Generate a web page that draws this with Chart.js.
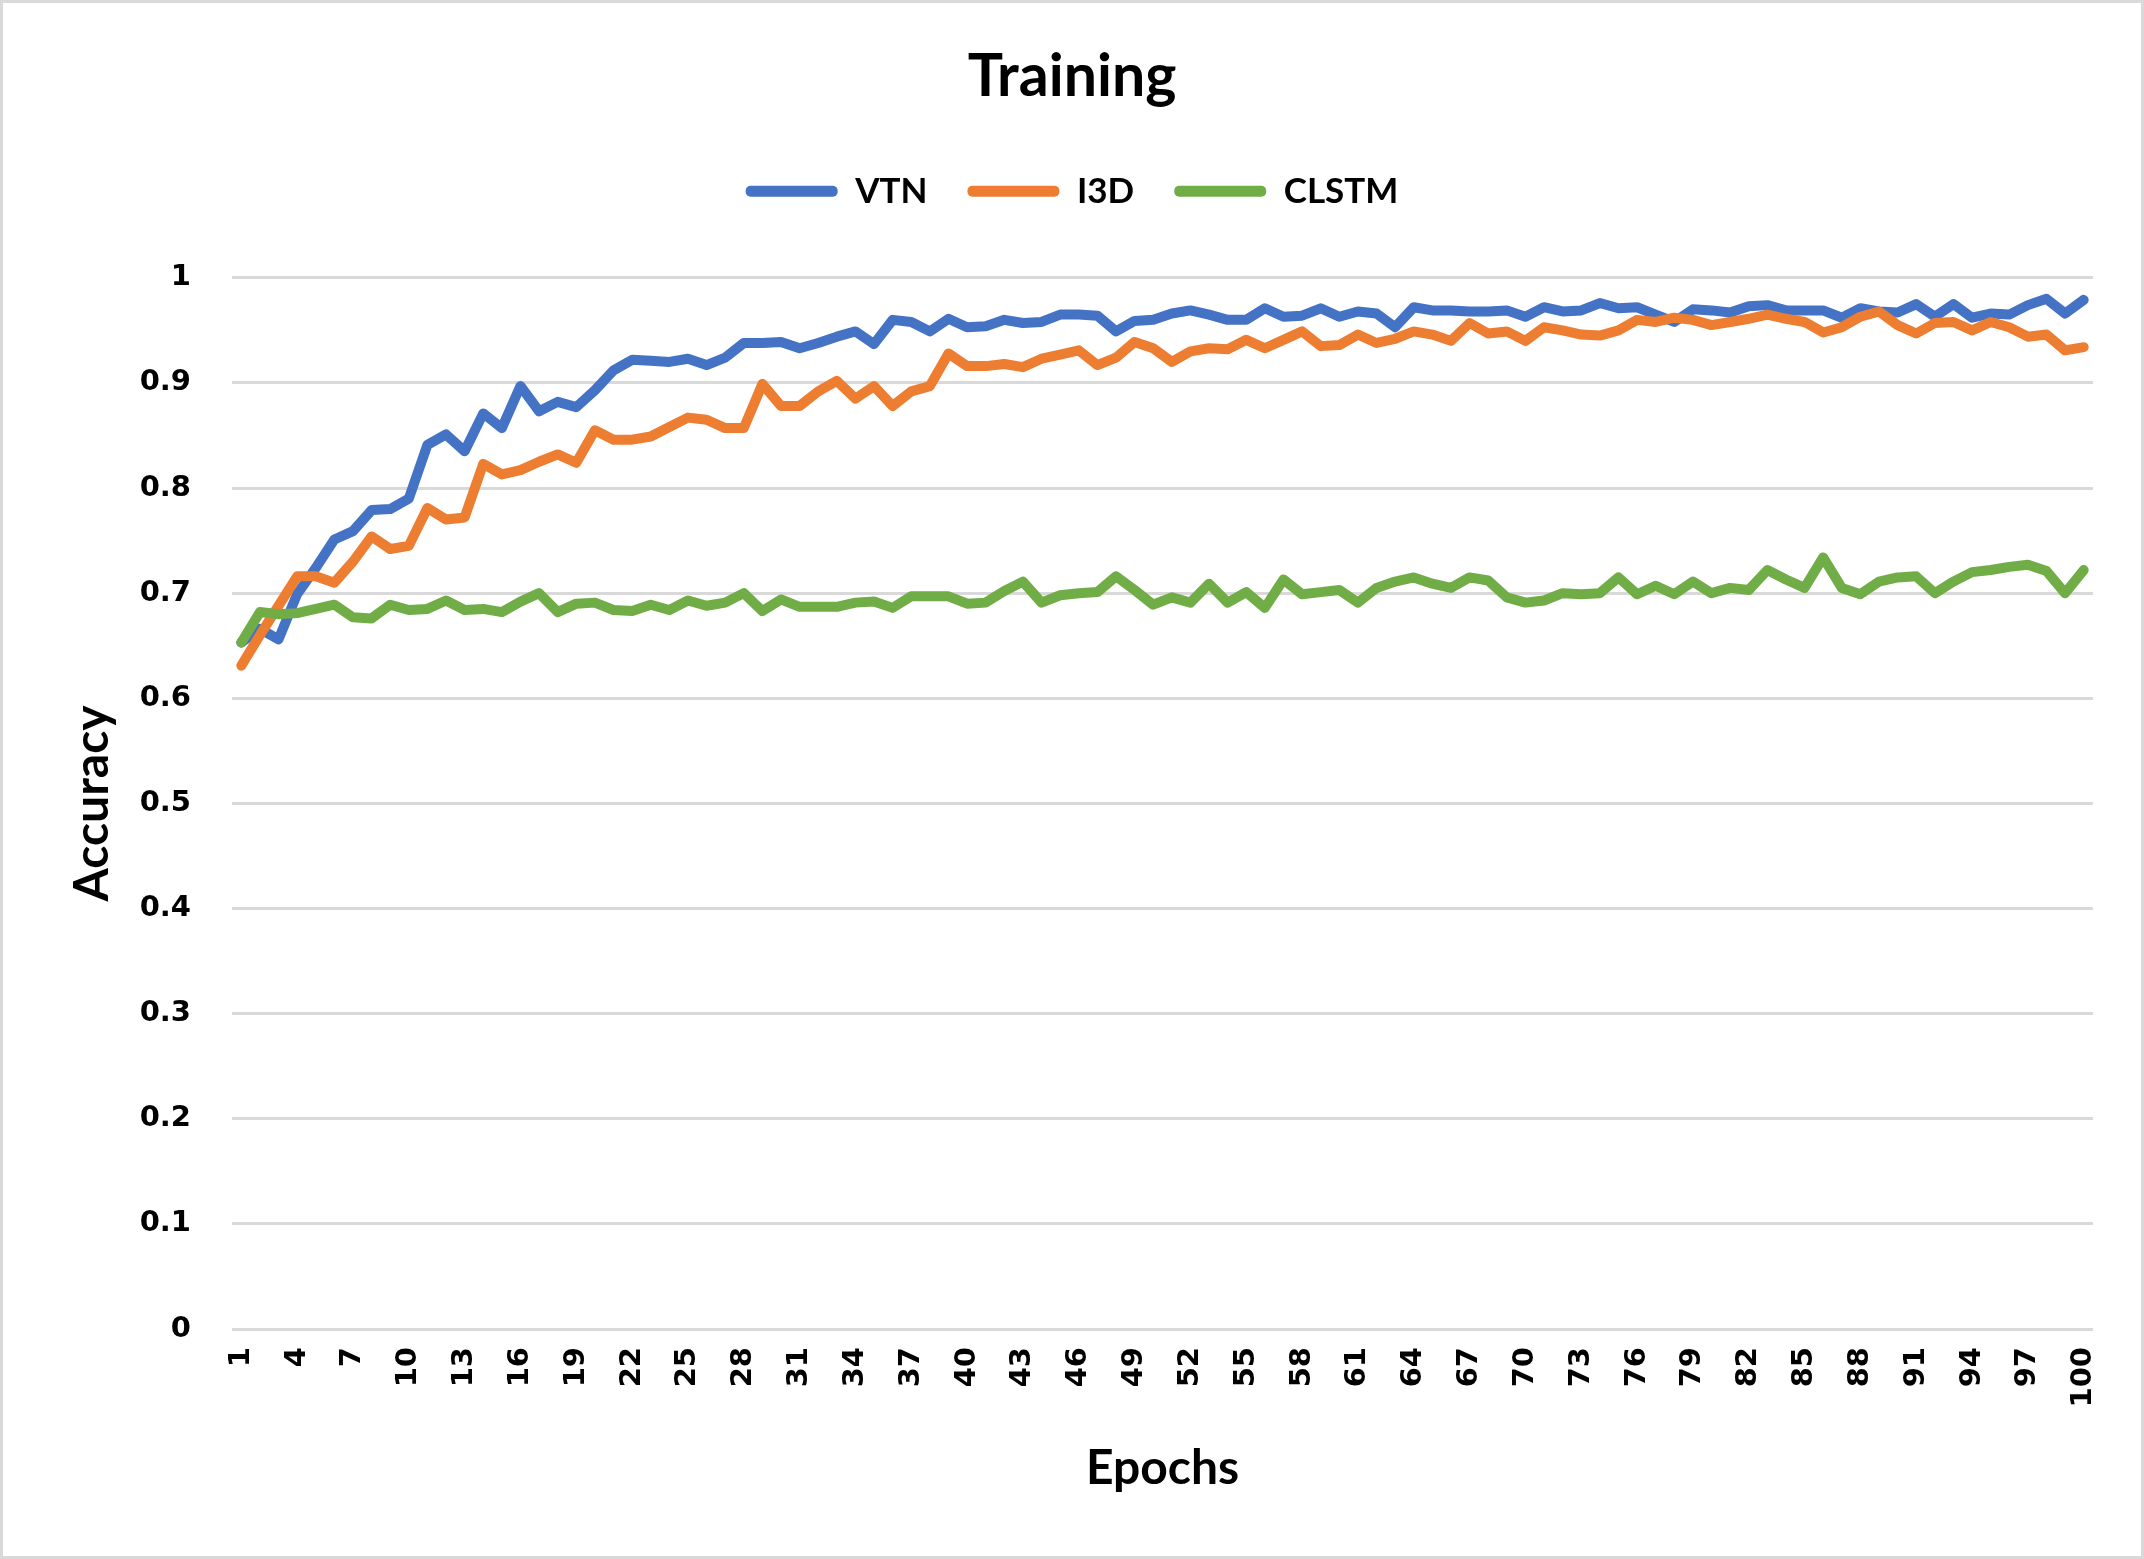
<!DOCTYPE html>
<html>
<head>
<meta charset="utf-8">
<script src="https://cdn.jsdelivr.net/npm/chart.js@4.4.1/dist/chart.umd.min.js"></script>
<style>
  html, body { margin: 0; padding: 0; background: #fff; }
  #wrap {
    position: relative;
    width: 2144px;
    height: 1559px;
    box-sizing: border-box;
    border: 3px solid #d9d9d9;
    background: #fff;
  }
</style>
</head>
<body>
<div id="wrap"><canvas id="myChart"></canvas></div>
<script>
var EPOCHS = [];
for (var e = 1; e <= 100; e++) { EPOCHS.push(String(e)); }

var VTN = [
    0.653, 0.666, 0.656, 0.699, 0.724, 0.751, 0.759, 0.779, 0.780, 0.790,
    0.841, 0.851, 0.835, 0.871, 0.857, 0.897, 0.873, 0.882, 0.877, 0.893,
    0.912, 0.922, 0.921, 0.920, 0.923, 0.917, 0.924, 0.938, 0.938, 0.939,
    0.933, 0.938, 0.944, 0.949, 0.937, 0.960, 0.958, 0.949, 0.961, 0.953,
    0.954, 0.960, 0.957, 0.958, 0.965, 0.965, 0.964, 0.949, 0.959, 0.960,
    0.966, 0.969, 0.965, 0.960, 0.960, 0.971, 0.963, 0.964, 0.971, 0.963,
    0.968, 0.966, 0.953, 0.972, 0.969, 0.969, 0.968, 0.968, 0.969, 0.963,
    0.972, 0.968, 0.969, 0.976, 0.971, 0.972, 0.965, 0.958, 0.970, 0.969,
    0.967, 0.973, 0.974, 0.969, 0.969, 0.969, 0.962, 0.971, 0.968, 0.967,
    0.975, 0.963, 0.975, 0.962, 0.966, 0.965, 0.974, 0.980, 0.966, 0.979
];

var I3D = [
    0.631, 0.660, 0.688, 0.716, 0.716, 0.710, 0.730, 0.754, 0.742, 0.745,
    0.781, 0.770, 0.772, 0.823, 0.813, 0.817, 0.825, 0.832, 0.824, 0.855,
    0.846, 0.846, 0.849, 0.858, 0.867, 0.865, 0.857, 0.857, 0.899, 0.878,
    0.878, 0.892, 0.902, 0.885, 0.897, 0.878, 0.892, 0.897, 0.928, 0.916,
    0.916, 0.918, 0.915, 0.923, 0.927, 0.931, 0.917, 0.924, 0.939, 0.933,
    0.920, 0.930, 0.933, 0.932, 0.941, 0.933, 0.941, 0.949, 0.935, 0.936,
    0.946, 0.938, 0.942, 0.949, 0.946, 0.940, 0.957, 0.947, 0.949, 0.940,
    0.953, 0.950, 0.946, 0.945, 0.950, 0.960, 0.958, 0.962, 0.960, 0.955,
    0.958, 0.961, 0.965, 0.961, 0.958, 0.948, 0.953, 0.963, 0.968, 0.955,
    0.947, 0.957, 0.958, 0.950, 0.958, 0.953, 0.944, 0.946, 0.931, 0.934
];

var CLSTM = [
    0.653, 0.682, 0.680, 0.681, 0.685, 0.689, 0.677, 0.676, 0.689, 0.684,
    0.685, 0.693, 0.684, 0.685, 0.682, 0.692, 0.700, 0.682, 0.690, 0.691,
    0.684, 0.683, 0.689, 0.684, 0.693, 0.688, 0.691, 0.700, 0.683, 0.694,
    0.687, 0.687, 0.687, 0.691, 0.692, 0.686, 0.697, 0.697, 0.697, 0.690,
    0.691, 0.702, 0.711, 0.691, 0.698, 0.700, 0.701, 0.716, 0.703, 0.689,
    0.696, 0.691, 0.709, 0.691, 0.701, 0.686, 0.713, 0.699, 0.701, 0.703,
    0.691, 0.705, 0.711, 0.715, 0.709, 0.705, 0.715, 0.712, 0.696, 0.691,
    0.693, 0.700, 0.699, 0.700, 0.715, 0.699, 0.707, 0.699, 0.711, 0.700,
    0.705, 0.703, 0.722, 0.713, 0.705, 0.734, 0.705, 0.699, 0.711, 0.715,
    0.716, 0.700, 0.711, 0.720, 0.722, 0.725, 0.727, 0.721, 0.700, 0.722
];

var SERIES_NAMES = ['VTN', 'I3D', 'CLSTM'];
var SERIES_COLORS = ['#4472C4', '#ED7D31', '#70AD47'];

(function () {
    var seriesData = [VTN, I3D, CLSTM];

    // extra room under the legend before the plot starts
    var legendGap = {
        id: 'legendGap',
        beforeInit: function (chart) {
            var fit = chart.legend.fit;
            chart.legend.fit = function () {
                fit.call(this);
                this.height += 59;
            };
        }
    };

    var datasets = seriesData.map(function (values, i) {
        return {
            label: SERIES_NAMES[i],
            data: values,
            borderColor: SERIES_COLORS[i],
            backgroundColor: SERIES_COLORS[i],
            borderWidth: 10,
            pointRadius: 0,
            pointHoverRadius: 0,
            tension: 0,
            fill: false,
            borderJoinStyle: 'round',
            borderCapStyle: 'round',
            order: 3 - i
        };
    });

    Chart.defaults.color = '#000';

    new Chart(document.getElementById('myChart').getContext('2d'), {
        type: 'line',
        data: { labels: EPOCHS, datasets: datasets },
        plugins: [legendGap],
        options: {
            responsive: true,
            maintainAspectRatio: false,
            animation: false,
            devicePixelRatio: 1,
            layout: { padding: { left: 48, right: 48, top: 0, bottom: 0 } },
            plugins: {
                title: {
                    display: true,
                    text: 'Training',
                    color: '#000',
                    font: { family: 'Lato', size: 59, weight: 'bold' },
                    padding: { top: 39, bottom: 21 }
                },
                legend: {
                    position: 'top',
                    labels: {
                        boxWidth: 92,
                        boxHeight: 11,
                        padding: 40,
                        color: '#000',
                        font: { family: 'Lato', size: 35, weight: 'bold' },
                        useBorderRadius: true,
                        borderRadius: 5,
                        sort: function (a, b) { return a.datasetIndex - b.datasetIndex; },
                        generateLabels: function (chart) {
                            var items = Chart.defaults.plugins.legend.labels.generateLabels(chart);
                            items.forEach(function (it) { it.lineWidth = 0; });
                            return items;
                        }
                    }
                },
                tooltip: { enabled: false }
            },
            scales: {
                x: {
                    offset: true,
                    grid: { display: false, drawTicks: false },
                    border: { display: false },
                    ticks: {
                        autoSkip: false,
                        maxRotation: 90,
                        minRotation: 90,
                        padding: 18,
                        color: '#000',
                        font: { family: 'DejaVu Sans', size: 29, weight: 'bold' },
                        callback: function (val, index) {
                            return index % 3 === 0 ? this.getLabelForValue(val) : '';
                        }
                    },
                    title: {
                        display: true,
                        text: 'Epochs',
                        color: '#000',
                        font: { family: 'Lato', size: 48, weight: 'bold' },
                        padding: { top: 0, bottom: 59 }
                    },
                    afterFit: function (scale) { scale.height = 227; }
                },
                y: {
                    min: 0,
                    max: 1,
                    grid: { color: '#d9d9d9', lineWidth: 3, drawTicks: false },
                    border: { display: false },
                    ticks: {
                        stepSize: 0.1,
                        padding: 41,
                        color: '#000',
                        font: { family: 'DejaVu Sans', size: 29, weight: 'bold' },
                        callback: function (v) { return String(+v.toFixed(1)); }
                    },
                    title: {
                        display: true,
                        text: 'Accuracy',
                        color: '#000',
                        font: { family: 'Lato', size: 48, weight: 'bold' },
                        padding: { top: 13, bottom: 0 }
                    },
                    afterFit: function (scale) { scale.width = 181; }
                }
            }
        }
    });
})();
</script>
</body>
</html>
